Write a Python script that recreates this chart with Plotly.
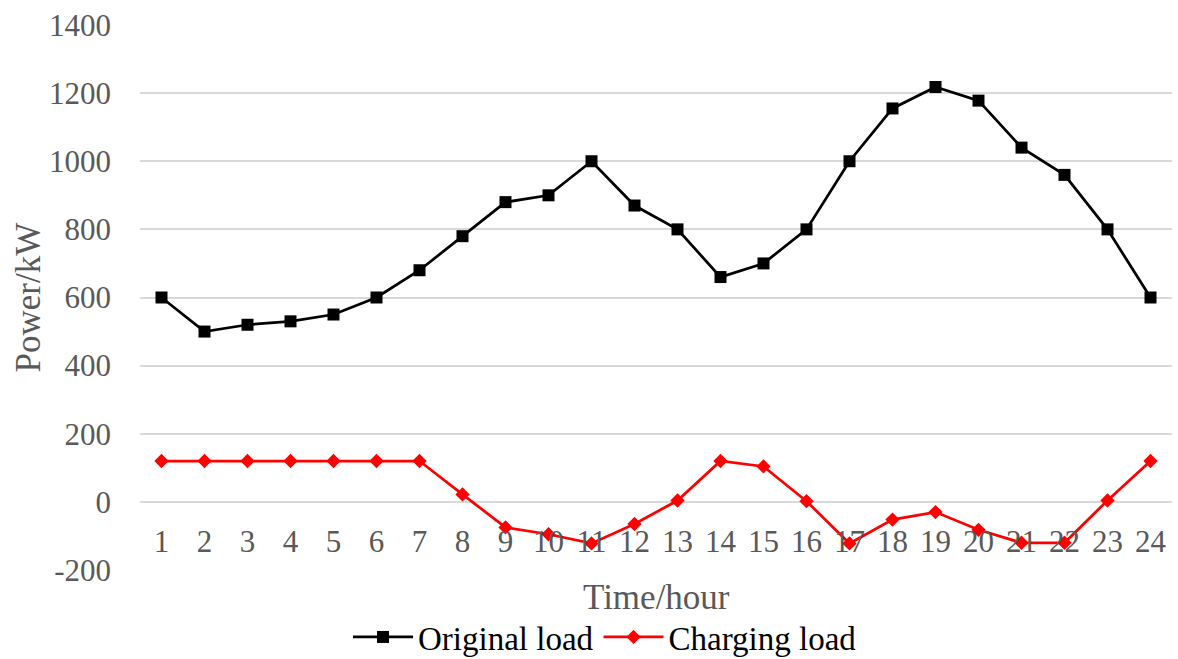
import plotly.graph_objects as go

hours = list(range(1, 25))
hour_labels = [str(h) for h in hours]
original_load = [600, 500, 520, 530, 550, 600, 680, 780, 880, 900, 1000, 870,
                 800, 660, 700, 800, 1000, 1155, 1218, 1178, 1040, 960, 800, 600]
charging_load = [120, 120, 120, 120, 120, 120, 120, 22, -75, -95, -122, -65,
                 4, 120, 104, 2, -122, -52, -30, -82, -120, -120, 4, 120]
y_ticks = [-200, 0, 200, 400, 600, 800, 1000, 1200, 1400]
y_tick_labels = ["-200", "0", "200", "400", "600", "800", "1000", "1200", "1400"]

FONT = "Liberation Serif, Times New Roman, serif"

fig = go.Figure()
fig.add_trace(go.Scatter(
    x=hours, y=original_load, name="Original load", mode="lines+markers",
    line=dict(color="black", width=2.75),
    marker=dict(symbol="square", size=12, color="black"),
))
fig.add_trace(go.Scatter(
    x=hours, y=charging_load, name="Charging load", mode="lines+markers",
    line=dict(color="#FF0000", width=2.75),
    marker=dict(symbol="diamond", size=11, color="#FF0000"),
))

fig.update_layout(
    width=1178, height=659,
    margin=dict(l=140, r=6, t=25, b=89, autoexpand=False),
    paper_bgcolor="white", plot_bgcolor="white",
    font=dict(family=FONT, color="#595959", size=31),
    showlegend=True,
    legend=dict(orientation="h", x=(348 - 140) / 1032, xanchor="left",
                y=(570 - 637) / 545, yanchor="middle",
                itemwidth=60,
                font=dict(family=FONT, size=33, color="black"),
                bgcolor="rgba(0,0,0,0)"),
    xaxis=dict(range=[0.5, 24.5], tickvals=hours, ticktext=hour_labels,
               showgrid=False, zeroline=False, showline=False, ticks="",
               anchor="free", position=0.125, ticklabelstandoff=18,
               tickfont=dict(family=FONT, size=31, color="#595959")),
    yaxis=dict(range=[-200, 1400], tickvals=y_ticks, ticktext=y_tick_labels,
               showgrid=True, gridcolor="#D9D9D9", gridwidth=1.5,
               zeroline=False, showline=False, ticks="", ticklabelstandoff=28,
               tickfont=dict(family=FONT, size=31, color="#595959")),
    annotations=[
        dict(text="Time/hour", xref="paper", yref="paper", x=0.5, y=(570 - 597) / 545,
             xanchor="center", yanchor="middle", showarrow=False,
             font=dict(family=FONT, size=35, color="#595959")),
        dict(text="Power/kW", xref="paper", yref="paper", x=(28 - 140) / 1032, y=0.5,
             xanchor="center", yanchor="middle", textangle=-90, showarrow=False,
             font=dict(family=FONT, size=35, color="#595959")),
    ],
)

fig.write_html("out.html")
